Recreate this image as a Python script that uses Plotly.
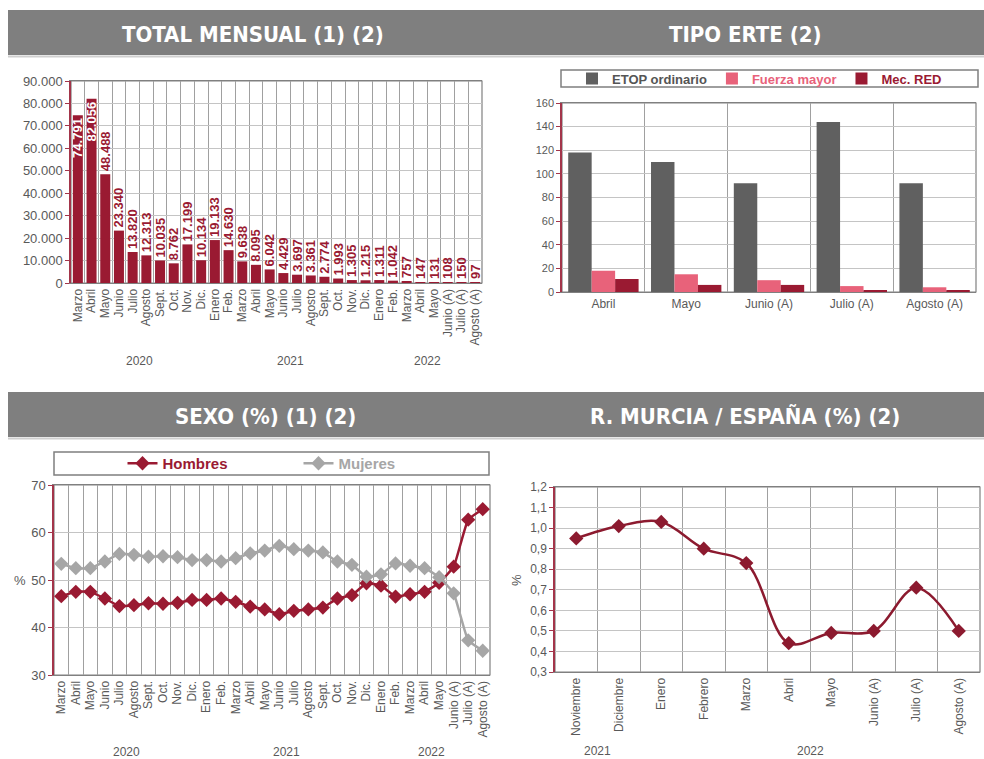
import plotly.graph_objects as go

W, H = 984, 759

# ---------------- data ----------------
meses_total = ["Marzo", "Abril", "Mayo", "Junio", "Julio", "Agosto", "Sept.", "Oct.", "Nov.", "Dic.",
               "Enero", "Feb.", "Marzo", "Abril", "Mayo", "Junio", "Julio", "Agosto", "Sept.", "Oct.",
               "Nov.", "Dic.", "Enero", "Feb.", "Marzo", "Abril", "Mayo", "Junio (A)", "Julio (A)",
               "Agosto (A)"]
anios = ["2020", "2021", "2022"]
meses_por_anio = [10, 12, 8]
total_mensual = [74791, 82056, 48488, 23340, 13820, 12313, 10035, 8762, 17199, 10134,
                 19133, 14630, 9638, 8095, 6042, 4429, 3697, 3361, 2774, 1993,
                 1305, 1215, 1311, 1042, 757, 147, 131, 108, 150, 97]

meses_tipo = ["Abril", "Mayo", "Junio (A)", "Julio (A)", "Agosto (A)"]
etop_ordinario = [118, 110, 92, 144, 92]
fuerza_mayor = [18, 15, 10, 5, 4]
mec_red = [11, 6, 6, 1, 1]

hombres = [46.6, 47.5, 47.5, 46.1, 44.5, 44.7, 45.1, 45.0, 45.2, 45.8,
           45.8, 46.1, 45.4, 44.4, 43.8, 42.8, 43.5, 43.8, 44.2, 46.1,
           46.8, 49.3, 48.8, 46.5, 47.0, 47.5, 49.4, 52.8, 62.7, 64.9]
mujeres = [53.4, 52.5, 52.5, 53.9, 55.5, 55.3, 54.9, 55.0, 54.8, 54.2,
           54.2, 53.9, 54.6, 55.6, 56.2, 57.2, 56.5, 56.2, 55.8, 53.9,
           53.2, 50.7, 51.2, 53.5, 53.0, 52.5, 50.6, 47.2, 37.3, 35.1]

meses_ratio = ["Noviembre", "Diciembre", "Enero", "Febrero", "Marzo", "Abril", "Mayo",
               "Junio (A)", "Julio (A)", "Agosto (A)"]
anios_ratio = ["2021", "2022"]
meses_por_anio_ratio = [2, 8]
ratio_murcia_espana = [0.95, 1.01, 1.03, 0.90, 0.83, 0.44, 0.49, 0.50, 0.71, 0.50]

# ---------------- styling ----------------
ROJO = "#9a1a32"
ROSA = "#e8627a"
GRIS_OSCURO = "#606060"
GRIS_LINEA = "#a6a6a6"
TXT = "#595959"
FONT = "Liberation Sans, Arial, sans-serif"
TITLE_FONT = "DejaVu Sans Condensed, DejaVu Sans, sans-serif"


def px(x):
    return x / W


def py(y):
    return 1 - y / H


def group_centers(counts):
    centers, start = [], 0
    for n in counts:
        centers.append(start + (n - 1) / 2)
        start += n
    return centers


fig = go.Figure()

# 1) TOTAL MENSUAL -------------------------------------------------
idx_total = list(range(len(total_mensual)))
pos_text = ["inside" if v > 70000 else "outside" for v in total_mensual]
fig.add_trace(go.Bar(
    x=idx_total, y=total_mensual, xaxis="x", yaxis="y",
    marker=dict(color=ROJO, line=dict(width=0)), width=0.73,
    texttemplate="%{y:,d}", textposition=pos_text, textangle=-90,
    insidetextanchor="end", constraintext="none", cliponaxis=False,
    outsidetextfont=dict(color=ROJO, size=13, family=FONT, weight="bold"),
    insidetextfont=dict(color="white", size=13, family=FONT, weight="bold"),
    showlegend=False, hoverinfo="skip",
))

# 2) TIPO ERTE -----------------------------------------------------
idx_tipo = list(range(len(meses_tipo)))
for nombre, vals, color, txtcolor in [("ETOP ordinario", etop_ordinario, GRIS_OSCURO, "#555555"),
                                      ("Fuerza mayor", fuerza_mayor, ROSA, ROSA),
                                      ("Mec. RED", mec_red, ROJO, ROJO)]:
    fig.add_trace(go.Bar(
        x=idx_tipo, y=vals, xaxis="x2", yaxis="y2",
        name=f'<span style="color:{txtcolor}">{nombre}</span>',
        marker=dict(color=color, line=dict(width=0)),
        legend="legend", hoverinfo="skip",
    ))

# 3) SEXO ----------------------------------------------------------
for nombre, vals, color in [("Hombres", hombres, ROJO), ("Mujeres", mujeres, GRIS_LINEA)]:
    fig.add_trace(go.Scatter(
        x=idx_total, y=vals, xaxis="x3", yaxis="y3", mode="lines+markers",
        name=f'<span style="color:{color}">{nombre}</span>',
        line=dict(color=color, width=2.5, shape="spline", smoothing=0.4),
        marker=dict(symbol="diamond", size=11, color=color),
        legend="legend2", hoverinfo="skip",
    ))

# 4) R. MURCIA / ESPAÑA -------------------------------------------
idx_ratio = list(range(len(meses_ratio)))
fig.add_trace(go.Scatter(
    x=idx_ratio, y=ratio_murcia_espana, xaxis="x4", yaxis="y4", mode="lines+markers",
    line=dict(color="#8c1a2f", width=2.5, shape="spline", smoothing=1.0),
    marker=dict(symbol="diamond", size=11, color="#8c1a2f"),
    showlegend=False, hoverinfo="skip",
))

# ---------------- axes ----------------
boxes = {
    "1": (71, 482, 81, 283),
    "2": (562, 976, 103, 292),
    "3": (54, 490, 485, 675),
    "4": (555, 980, 487, 672),
}


def xaxis_cfg(box, n, labels, angle, size):
    x0, x1, y0, y1 = box
    return dict(
        domain=[px(x0), px(x1)], range=[-0.5, n - 0.5], tickmode="array",
        tickvals=list(range(n)), ticktext=labels, tickangle=angle,
        tickfont=dict(family=FONT, size=size, color=TXT),
        showgrid=False, zeroline=False, ticks="", showline=True, mirror=True,
        linecolor="#808080", linewidth=1.2, automargin=False,
        minor=dict(tickmode="array", tickvals=[i + 0.5 for i in range(n - 1)],
                   showgrid=True, gridcolor="#a0a0a0", gridwidth=1, ticks=""),
        fixedrange=True,
    )


def yaxis_cfg(box, rng, dtick, fmt, size):
    x0, x1, y0, y1 = box
    return dict(
        domain=[py(y1), py(y0)], range=rng, dtick=dtick, tick0=rng[0], tickformat=fmt,
        tickfont=dict(family=FONT, size=size, color=TXT),
        showgrid=True, gridcolor="#c4c4c4", gridwidth=1, zeroline=False,
        showline=True, linecolor="#a3354a", linewidth=1.5, automargin=False,
        ticks="outside", ticklen=4, tickcolor="#a3354a", fixedrange=True,
    )


fig.update_layout(
    xaxis=dict(xaxis_cfg(boxes["1"], len(meses_total), meses_total, -90, 12), anchor="y"),
    yaxis=dict(yaxis_cfg(boxes["1"], [0, 90000], 10000, ",d", 13), anchor="x"),
    xaxis2=dict(xaxis_cfg(boxes["2"], len(meses_tipo), meses_tipo, 0, 12), anchor="y2"),
    yaxis2=dict(yaxis_cfg(boxes["2"], [0, 160], 20, "d", 11), anchor="x2"),
    xaxis3=dict(xaxis_cfg(boxes["3"], len(meses_total), meses_total, -90, 12), anchor="y3"),
    yaxis3=dict(yaxis_cfg(boxes["3"], [30, 70], 10, "d", 13), anchor="x3"),
    xaxis4=dict(xaxis_cfg(boxes["4"], len(meses_ratio), meses_ratio, -90, 12), anchor="y4"),
    yaxis4=dict(yaxis_cfg(boxes["4"], [0.3, 1.2], 0.1, ".1f", 12), anchor="x4"),
)

# ---------------- decorations ----------------
shapes = []
annotations = []

# header bands
for top, bottom in [(10, 55), (392, 437)]:
    shapes.append(dict(type="rect", xref="paper", yref="paper", x0=px(8), x1=1,
                       y0=py(bottom), y1=py(top), fillcolor="#7f7f7f", line=dict(width=0),
                       layer="below"))
    shapes.append(dict(type="line", xref="paper", yref="paper", x0=px(8), x1=1,
                       y0=py(bottom + 1.5), y1=py(bottom + 1.5),
                       line=dict(color="#cfcfcf", width=2), layer="below"))

for text, cx, cy in [("TOTAL MENSUAL (1) (2)", 253, 34), ("TIPO ERTE (2)", 745, 34),
                     ("SEXO (%) (1) (2)", 265, 416), ("R. MURCIA / ESPAÑA (%) (2)", 745, 416)]:
    annotations.append(dict(text=text, xref="paper", yref="paper", x=px(cx), y=py(cy),
                            xanchor="center", yanchor="middle", showarrow=False,
                            font=dict(family=TITLE_FONT, size=22, color="white", weight="bold")))

# plot frames (top/right edges)
for k in ["", "2", "3", "4"]:
    shapes.append(dict(type="rect", xref=f"x{k} domain", yref=f"y{k} domain",
                       x0=0, x1=1, y0=0, y1=1, line=dict(color="#808080", width=1.2),
                       layer="below"))

# legend boxes
for x0, x1, y0, y1 in [(561, 978, 70, 87), (54, 489, 452, 475)]:
    shapes.append(dict(type="rect", xref="paper", yref="paper", x0=px(x0), x1=px(x1),
                       y0=py(y1), y1=py(y0), line=dict(color="#7f7f7f", width=1.5),
                       layer="below"))

# year labels under the monthly axes
for xa, counts, names, ypix in [("x", meses_por_anio, anios, 361),
                                ("x3", meses_por_anio, anios, 752),
                                ("x4", meses_por_anio_ratio, anios_ratio, 751)]:
    for c, name in zip(group_centers(counts), names):
        annotations.append(dict(text=name, xref=xa, yref="paper", x=c, y=py(ypix),
                                xanchor="center", yanchor="middle", showarrow=False,
                                font=dict(family=FONT, size=12, color=TXT)))

# "%" axis titles
annotations.append(dict(text="%", xref="paper", yref="paper", x=px(20), y=py(580),
                        xanchor="center", yanchor="middle", showarrow=False,
                        font=dict(family=FONT, size=13, color=TXT)))
annotations.append(dict(text="%", xref="paper", yref="paper", x=px(516), y=py(580),
                        xanchor="center", yanchor="middle", showarrow=False, textangle=-90,
                        font=dict(family=FONT, size=13, color=TXT)))

fig.update_layout(
    width=W, height=H, margin=dict(l=0, r=0, t=0, b=0, autoexpand=False),
    paper_bgcolor="white", plot_bgcolor="white",
    separators=",.", barmode="group", bargap=0.15, bargroupgap=0,
    shapes=shapes, annotations=annotations,
    legend=dict(orientation="h", x=px(759.5), y=py(78.5), xanchor="center", yanchor="middle",
                bgcolor="rgba(0,0,0,0)", borderwidth=0, traceorder="normal",
                font=dict(family=FONT, size=13, color="#555555", weight="bold")),
    legend2=dict(orientation="h", x=px(298.5), y=py(463.5), xanchor="center", yanchor="middle",
                 bgcolor="rgba(0,0,0,0)", borderwidth=0, traceorder="normal",
                 entrywidth=131, entrywidthmode="pixels",
                 font=dict(family=FONT, size=15, color="#555555", weight="bold")),
    font=dict(family=FONT, color=TXT),
)

fig.write_html("out.html")
